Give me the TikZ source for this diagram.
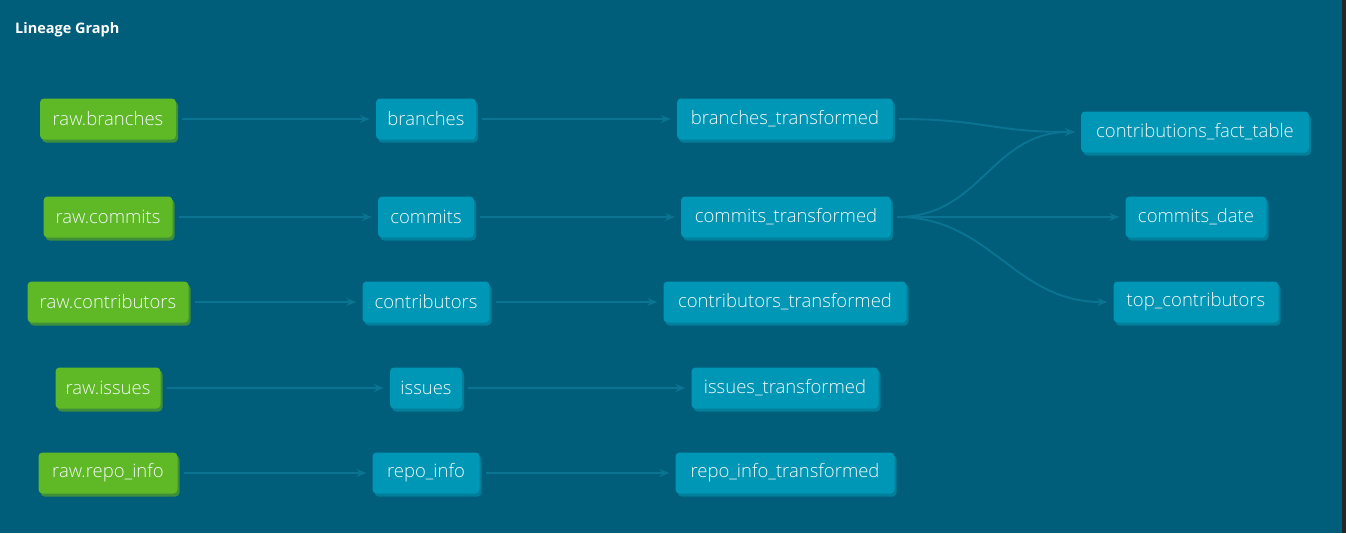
\documentclass[tikz,border=0pt]{standalone}
\usepackage{fontspec}
\setmainfont{Open Sans}
\newfontfamily\nodefont{Open Sans Light}
\usetikzlibrary{arrows.meta,shadows}
\definecolor{bg}{HTML}{005E7A}
\definecolor{edge}{HTML}{0B7492}
\definecolor{srcfill}{HTML}{5FB825}
\definecolor{srcshadow}{HTML}{3E8F3C}
\definecolor{mdlfill}{HTML}{0096B5}
\definecolor{mdlshadow}{HTML}{007E9A}
\definecolor{txt}{HTML}{F2F8F8}
\definecolor{strip}{HTML}{262626}
\tikzset{
  base/.style={rounded corners=4pt, minimum height=41pt, inner xsep=5pt,
    font=\nodefont\fontsize{18.5}{21}\selectfont, text=txt, anchor=center},
  src/.style={base, fill=srcfill, drop shadow={shadow xshift=2pt, shadow yshift=-3pt, fill=srcshadow, opacity=1}},
  mdl/.style={base, fill=mdlfill, drop shadow={shadow xshift=2pt, shadow yshift=-3pt, fill=mdlshadow, opacity=1}},
  link/.style={draw=edge, line width=1.9pt, -{Stealth[length=10pt,width=8pt,inset=3.5pt]}, shorten <=6pt, shorten >=6pt},
  ttl/.style={font=\bfseries\fontsize{14.5}{16}\selectfont, text=white, anchor=west, inner sep=0pt}
}
\begin{document}
\begin{tikzpicture}[x=1pt,y=-1pt]
\useasboundingbox (0,0) rectangle (1346,533);
\fill[bg] (0,0) rectangle (1346,533);
\fill[strip] (1342,0) rectangle (1346,533);
\node[ttl] (title) at (15,30) {Lineage Graph};

\node[src, minimum width=136pt] (rb) at (108,119) {raw.branches};
\node[src, minimum width=129pt] (rc) at (108,217) {raw.commits};
\node[src, minimum width=161pt] (rco) at (108,302) {raw.contributors};
\node[src, minimum width=105pt] (ri) at (108,388) {raw.issues};
\node[src, minimum width=139pt] (rr) at (108,473) {raw.repo\_info};

\node[mdl, minimum width=100pt] (b) at (426,119) {branches};
\node[mdl, minimum width=96pt] (c) at (426,217) {commits};
\node[mdl, minimum width=127pt] (co) at (426,302) {contributors};
\node[mdl, minimum width=72pt] (i) at (426,388) {issues};
\node[mdl, minimum width=107pt] (r) at (426,473) {repo\_info};

\node[mdl, minimum width=216pt] (bt) at (785,119) {branches\_transformed};
\node[mdl, minimum width=210pt] (ct) at (786,217) {commits\_transformed};
\node[mdl, minimum width=243pt] (cot) at (785,302) {contributors\_transformed};
\node[mdl, minimum width=187pt] (it) at (785,388) {issues\_transformed};
\node[mdl, minimum width=219pt] (rt) at (785,473) {repo\_info\_transformed};

\node[mdl, minimum width=228pt] (cf) at (1195,132) {contributions\_fact\_table};
\node[mdl, minimum width=141pt] (cd) at (1196,217) {commits\_date};
\node[mdl, minimum width=165pt] (tc) at (1196,302) {top\_contributors};

\draw[link] (rb.east) -- (b.west);
\draw[link] (rc.east) -- (c.west);
\draw[link] (rco.east) -- (co.west);
\draw[link] (ri.east) -- (i.west);
\draw[link] (rr.east) -- (r.west);

\draw[link] (b.east) -- (bt.west);
\draw[link] (c.east) -- (ct.west);
\draw[link] (co.east) -- (cot.west);
\draw[link] (i.east) -- (it.west);
\draw[link] (r.east) -- (rt.west);

\draw[link] (bt.east) .. controls +(90pt,0) and +(-90pt,0) .. (cf.west);
\draw[link] (ct.east) .. controls +(90pt,0) and +(-90pt,0) .. (cf.west);
\draw[link] (ct.east) -- (cd.west);
\draw[link] (ct.east) .. controls +(100pt,0) and +(-100pt,0) .. (tc.west);
\end{tikzpicture}
\end{document}
